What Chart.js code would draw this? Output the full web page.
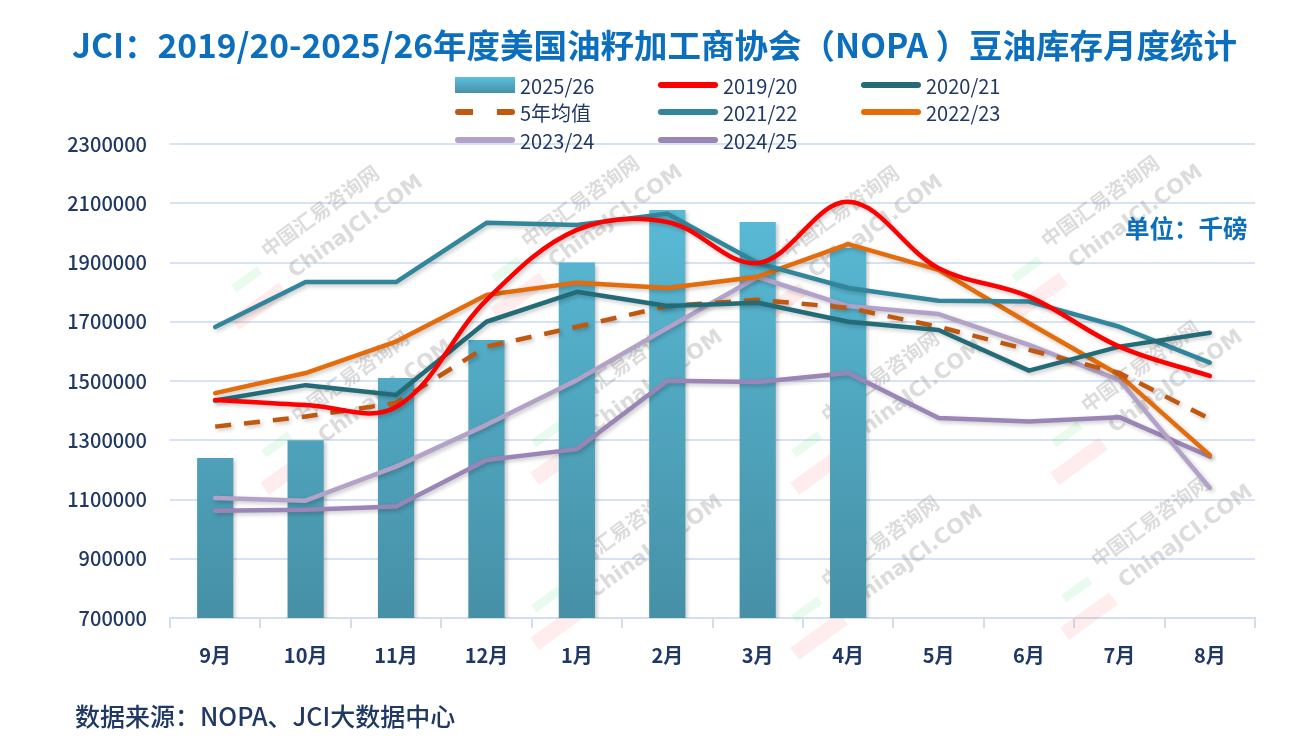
<!DOCTYPE html>
<html>
<head>
<meta charset="utf-8">
<script src="https://cdn.jsdelivr.net/npm/chart.js@4/dist/chart.umd.min.js"></script>
<style>
  html, body { margin: 0; padding: 0; background: #fff; }
  #wrap { position: relative; width: 1309px; height: 744px; overflow: hidden; font-family: "Noto Sans CJK SC", "Noto Sans", sans-serif; }
  #chart { position: absolute; left: 0; top: 0; }
  #title { position: absolute; left: 0; top: 21px; width: 1309px; text-align: center; font-size: 33.5px; line-height: 46px; font-weight: 700; color: #0b6fbd; white-space: nowrap; }
  #unit { position: absolute; left: 1125px; top: 211px; font-size: 24.5px; line-height: 34px; font-weight: 700; color: #0b6fbd; }
  #source { position: absolute; left: 75px; top: 697px; font-size: 25px; line-height: 36px; font-weight: 500; color: #1f3864; }
  .lg { position: absolute; height: 26px; display: flex; align-items: center; font-size: 20px; color: #1f3864; white-space: nowrap; }
  .sw { width: 60px; height: 6px; margin-right: 5px; border-radius: 3px; }
</style>
</head>
<body>
<div id="wrap">
  <canvas id="chart" width="1309" height="744"></canvas>
  <div id="title">JCI：2019/20-2025/26年度美国油籽加工商协会（NOPA ）豆油库存月度统计</div>
  <div id="legend"></div>
  <div id="unit">单位：千磅</div>
  <div id="source">数据来源：NOPA、JCI大数据中心</div>
</div>
<script>
// categories and series (thousand pounds)
let months = ["9月","10月","11月","12月","1月","2月","3月","4月","5月","6月","7月","8月"];
let y2526 = [1240000,1300000,1510000,1638000,1900000,2077000,2037000,1950000];
let y1920 = [1436000,1419000,1412000,1773000,2010000,2037000,1898000,2105000,1881000,1785000,1616000,1517000];
let y2021 = [1434000,1486000,1453000,1700000,1801000,1753000,1764000,1700000,1672000,1535000,1616000,1663000];
let y2122 = [1682000,1834000,1834000,2034000,2027000,2065000,1898000,1814000,1771000,1768000,1683000,1562000];
let y2223 = [1459000,1527000,1633000,1790000,1832000,1814000,1852000,1962000,1875000,1695000,1520000,1250000];
let y2324 = [1105000,1096000,1211000,1352000,1503000,1679000,1851000,1753000,1726000,1622000,1503000,1139000];
let y2425 = [1062000,1065000,1076000,1233000,1270000,1501000,1497000,1527000,1375000,1363000,1378000,1245000];
let avg5 = [1346000,1380000,1426000,1616000,1683000,1753000,1774000,1747000,1683000,1605000,1527000,1372000];
let yTicks = [700000,900000,1100000,1300000,1500000,1700000,1900000,2100000,2300000];

let navy = '#1f3864';

function barFill(c){
    let area = c.chart.chartArea;
    if(!area) return '#5bc0dc';
    let g = c.chart.ctx.createLinearGradient(0, area.top, 0, area.bottom);
    g.addColorStop(0, '#5cc1de');
    g.addColorStop(1, '#4690a6');
    return g;
}

function line(label, data, color, extra){
    return Object.assign({
        type:'line', label:label, data:data,
        borderColor:color, backgroundColor:color,
        borderWidth:4.5, pointRadius:0, pointHoverRadius:0,
        tension:0, fill:false, order:1, borderCapStyle:'round', borderJoinStyle:'round'
    }, extra || {});
}

let datasets = [
    { type:'bar', label:'2025/26', data:y2526, backgroundColor:barFill, barPercentage:0.4, categoryPercentage:1, order:10 },
    line('2019/20', y1920, '#ff0000', {tension:0.36}),
    line('2020/21', y2021, '#246b78'),
    line('5年均值', avg5, '#c0580f', {borderDash:[16,13], borderCapStyle:'butt'}),
    line('2021/22', y2122, '#31869b'),
    line('2022/23', y2223, '#e46c0a'),
    line('2023/24', y2324, '#b3a2c7'),
    line('2024/25', y2425, '#9985b6')
];

// faint site watermarks
let marks = [[300,235],[560,225],[820,235],[1080,225],[330,400],[600,390],[860,400],[1120,390],[600,555],[860,565],[1130,545]];
let watermark = {
    id:'watermark',
    beforeDatasetsDraw(chart){
        let ctx = chart.ctx;
        ctx.save();
        marks.forEach(([x,y])=>{
            ctx.save();
            ctx.translate(x,y);
            ctx.rotate(-Math.PI/5);
            ctx.fillStyle = 'rgba(255,120,120,0.14)';
            ctx.fillRect(-105,26,60,15);
            ctx.fillStyle = 'rgba(120,230,140,0.16)';
            ctx.fillRect(-85,0,32,9);
            ctx.fillStyle = 'rgba(150,150,150,0.33)';
            ctx.font = '700 20px "Noto Sans CJK SC"';
            ctx.fillText('中国汇易咨询网', -40, 0);
            ctx.font = '600 21px "DejaVu Sans"';
            ctx.fillText('ChinaJCI.COM', -30, 32);
            ctx.restore();
        });
        ctx.restore();
    }
};

let shadow = {
    id:'shadow',
    beforeDatasetDraw(chart){
        let ctx = chart.ctx;
        ctx.save();
        ctx.shadowColor = 'rgba(0,0,0,0.22)';
        ctx.shadowBlur = 4;
        ctx.shadowOffsetX = 2;
        ctx.shadowOffsetY = 2;
    },
    afterDatasetDraw(chart){
        chart.ctx.restore();
    }
};

let ctx = document.getElementById('chart').getContext('2d');
let chart = new Chart(ctx,{
    type:'bar',
    data:{ labels:months, datasets:datasets },
    plugins:[watermark, shadow],
    options:{
        responsive:false,
        animation:false,
        layout:{ padding:{ left:60, right:54, top:144, bottom:66 } },
        plugins:{ legend:{display:false}, tooltip:{enabled:false}, title:{display:false} },
        scales:{
            x:{
                offset:true,
                grid:{ display:true, drawOnChartArea:false, offset:true, tickLength:10, color:'#d3dfee', lineWidth:2 },
                border:{ color:'#d3dfee', width:2 },
                ticks:{ color:navy, padding:15, font:{ family:'"Noto Sans CJK SC"', size:20, weight:'bold' } },
                afterFit(s){ s.height = 60; }
            },
            y:{
                min:700000, max:2300000,
                afterBuildTicks(s){ s.ticks = yTicks.map(v=>({value:v})); },
                grid:{ color:'#d6e3f4', lineWidth:2, drawTicks:false },
                border:{ display:false },
                ticks:{ color:navy, padding:23, callback:v=>String(v), font:{ family:'"Noto Sans CJK SC"', size:20, weight:'500' } },
                afterFit(s){ s.width = 110; }
            }
        }
    }
});

// legend in three columns, same order as the picture
let legendOrder = ['2025/26','2019/20','2020/21','5年均值','2021/22','2022/23','2023/24','2024/25'];
let colX = [455, 658, 861];
let rowY = [72, 99, 127];
let lg = document.getElementById('legend');
legendOrder.forEach((name,i)=>{
    let ds = datasets.find(d=>d.label===name);
    let item = document.createElement('div');
    item.className = 'lg';
    item.style.left = colX[i%3] + 'px';
    item.style.top = rowY[Math.floor(i/3)] + 'px';
    let sw = document.createElement('div');
    sw.className = 'sw';
    if(ds.type==='bar'){
        sw.style.height = '16px';
        sw.style.borderRadius = '0';
        sw.style.background = 'linear-gradient(#5cc1de,#4690a6)';
    } else if(ds.borderDash){
        sw.style.background = 'linear-gradient(90deg,' + ds.borderColor + ' 0 18px, transparent 18px 42px,' + ds.borderColor + ' 42px 60px)';
    } else {
        sw.style.background = ds.borderColor;
    }
    item.appendChild(sw);
    let t = document.createElement('span');
    t.textContent = name;
    item.appendChild(t);
    lg.appendChild(item);
});
</script>
</body>
</html>
